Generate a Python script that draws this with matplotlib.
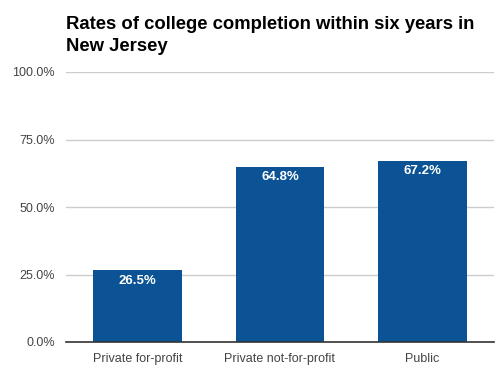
import matplotlib.pyplot as plt
from matplotlib.ticker import FuncFormatter

# Данные
categories = ["Private for-profit", "Private not-for-profit", "Public"]
rates = [26.5, 64.8, 67.2]
y_ticks = [0, 25, 50, 75, 100]

plt.rcParams['font.family'] = ['Liberation Sans', 'DejaVu Sans']

fig = plt.figure(figsize=(5.04, 3.75), dpi=100)
ax = fig.add_axes([0.131, 0.088, 0.849, 0.72])

x = range(len(categories))
bars = ax.bar(x, rates, width=0.62, color='#0b5394', zorder=3)

ax.set_xlim(-0.5, len(categories) - 0.5)
ax.set_ylim(0, 100)
ax.set_yticks(y_ticks)
ax.yaxis.set_major_formatter(FuncFormatter(lambda v, p: f"{v:.1f}%"))
ax.set_xticks(list(x))
ax.set_xticklabels(categories)
ax.tick_params(axis='both', length=0, labelsize=9, colors='#444444')
ax.tick_params(axis='x', pad=8)
ax.tick_params(axis='y', pad=8)

ax.grid(axis='y', color='#cccccc', linewidth=1, zorder=0)
for s in ['top', 'right', 'left']:
    ax.spines[s].set_visible(False)
ax.spines['bottom'].set_color('#333333')
ax.spines['bottom'].set_linewidth(1.2)
ax.spines['bottom'].set_zorder(4)

# Подписи внутри столбцов
for b, v in zip(bars, rates):
    ax.annotate(f"{v:.1f}%", (b.get_x() + b.get_width() / 2, v),
                xytext=(0, -3), textcoords='offset points',
                ha='center', va='top', color='white',
                fontsize=9.5, fontweight='bold', zorder=5)

fig.text(0.131, 0.958, "Rates of college completion within six years in\nNew Jersey",
         ha='left', va='top', fontsize=13.3, fontweight='bold',
         linespacing=1.4, color='black')

fig.savefig("out.png", dpi=100)
